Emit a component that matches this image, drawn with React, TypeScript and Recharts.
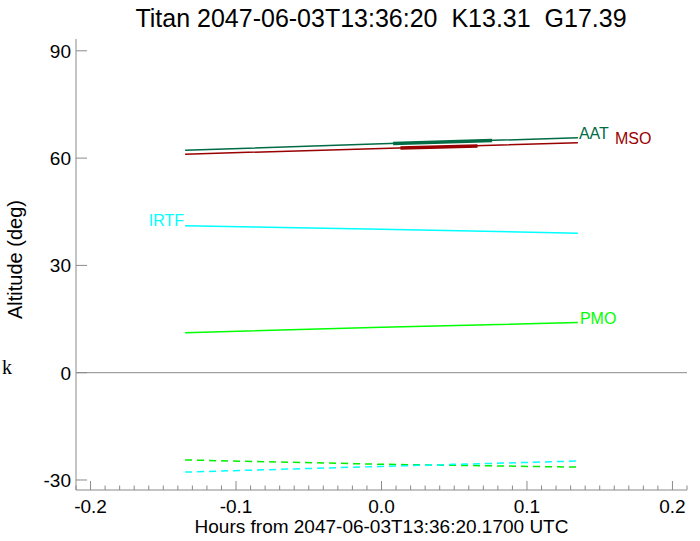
import { Line, LineChart, ReferenceLine, XAxis, YAxis } from "recharts";

// altitude tracks, hours from mid-time vs degrees
const aat = [
  { x: -0.135, y: 62.2 },
  { x: 0.0, y: 64.0 },
  { x: 0.135, y: 65.7 },
];
const aatObs = [
  { x: 0.008, y: 64.1 },
  { x: 0.076, y: 64.9 },
];
const mso = [
  { x: -0.135, y: 61.1 },
  { x: 0.0, y: 62.7 },
  { x: 0.135, y: 64.3 },
];
const msoObs = [
  { x: 0.013, y: 62.8 },
  { x: 0.066, y: 63.4 },
];
const irtf = [
  { x: -0.135, y: 41.1 },
  { x: 0.0, y: 40.1 },
  { x: 0.135, y: 39.0 },
];
const pmo = [
  { x: -0.135, y: 11.2 },
  { x: 0.0, y: 12.7 },
  { x: 0.135, y: 14.0 },
];
const pmoLow = [
  { x: -0.135, y: -24.4 },
  { x: 0.0, y: -25.6 },
  { x: 0.135, y: -26.4 },
];
const irtfLow = [
  { x: -0.135, y: -27.8 },
  { x: 0.0, y: -26.2 },
  { x: 0.135, y: -24.7 },
];

const yTicks = [-30, 0, 30, 60, 90];
const xTicks = Array.from({ length: 43 }, (_, i) => (i - 21) / 100);

const AXIS = "#8a8a8a";
const FONT = "'Liberation Sans', Arial, Helvetica, sans-serif";

const isMajor = (v: number) => Math.round(v * 100) % 10 === 0;

function BottomTick({ x, y, payload }: any) {
  const v = payload.value;
  const major = isMajor(v);
  return (
    <g>
      <line x1={x} x2={x} y1={y} y2={y - (major ? 9 : 4.5)} stroke={AXIS} />
      {major && (
        <text x={x} y={y + 23} textAnchor="middle" fontSize={19} fill="#000" fontFamily={FONT}>
          {v.toFixed(1)}
        </text>
      )}
    </g>
  );
}

function TopTick({ x, y, payload }: any) {
  const major = isMajor(payload.value);
  return <line x1={x} x2={x} y1={y} y2={y + (major ? 9 : 4.5)} stroke={AXIS} />;
}

function LeftTick({ x, y, payload }: any) {
  return (
    <g>
      <line x1={x} x2={x + 11} y1={y} y2={y} stroke={AXIS} />
      <text x={x - 5} y={y} dy="0.36em" textAnchor="end" fontSize={19} fill="#000" fontFamily={FONT}>
        {payload.value}
      </text>
    </g>
  );
}

function RightTick({ x, y }: any) {
  return <line x1={x} x2={x - 11} y1={y} y2={y} stroke={AXIS} />;
}

const tag =
  (text: string, color: string, at: number, dx: number, dy: number, anchor: string) =>
  (p: any) =>
    p.index === at ? (
      <text x={p.x + dx} y={p.y + dy} fill={color} fontSize={16} fontFamily={FONT} textAnchor={anchor}>
        {text}
      </text>
    ) : null;

export default function App() {
  return (
    <div style={{ position: "absolute", left: 0, top: 0, width: 700, height: 541, background: "#fff" }}>
      <div
        style={{
          position: "absolute",
          left: 0,
          width: 762,
          top: 4,
          textAlign: "center",
          fontFamily: FONT,
          fontSize: 25,
        }}
      >
        Titan 2047-06-03T13:36:20&nbsp;&nbsp;K13.31&nbsp;&nbsp;G17.39
      </div>
      <div style={{ position: "absolute", left: 2, top: 356, fontSize: 20 }}>k</div>
      <LineChart width={700} height={541} margin={{ top: 39, right: 13, left: 0, bottom: 0 }}>
        <XAxis
          type="number"
          dataKey="x"
          domain={[-0.21, 0.21]}
          ticks={xTicks}
          interval={0}
          allowDataOverflow
          height={51}
          stroke={AXIS}
          tickSize={0}
          tickMargin={0}
          tick={<BottomTick />}
          label={(p: any) => (
            <text
              x={p.viewBox.x + p.viewBox.width / 2}
              y={p.viewBox.y + 43}
              textAnchor="middle"
              fontSize={19}
              fontFamily={FONT}
              fill="#000"
            >
              Hours from 2047-06-03T13:36:20.1700 UTC
            </text>
          )}
        />
        <XAxis
          xAxisId="t"
          orientation="top"
          type="number"
          dataKey="x"
          domain={[-0.21, 0.21]}
          ticks={xTicks}
          interval={0}
          allowDataOverflow
          height={0}
          stroke={AXIS}
          tickSize={0}
          tickMargin={0}
          tick={<TopTick />}
        />
        <YAxis
          type="number"
          domain={[-32.8, 93.3]}
          ticks={yTicks}
          interval={0}
          allowDataOverflow
          width={76}
          stroke={AXIS}
          tickSize={0}
          tickMargin={0}
          tick={<LeftTick />}
          label={(p: any) => {
            const cx = 22;
            const cy = p.viewBox.y + p.viewBox.height / 2 - 5;
            return (
              <text
                x={cx}
                y={cy}
                transform={`rotate(-90 ${cx} ${cy})`}
                textAnchor="middle"
                fontSize={20}
                fontFamily={FONT}
                fill="#000"
              >
                Altitude (deg)
              </text>
            );
          }}
        />
        <YAxis
          yAxisId="r"
          orientation="right"
          type="number"
          domain={[-32.8, 93.3]}
          ticks={yTicks}
          interval={0}
          allowDataOverflow
          width={0}
          stroke={AXIS}
          tickSize={0}
          tickMargin={0}
          tick={<RightTick />}
        />
        <ReferenceLine y={0} stroke={AXIS} />
        <Line data={aat} dataKey="y" stroke="#006b45" strokeWidth={1.5} dot={false} isAnimationActive={false}
          label={tag("AAT", "#006b45", 2, 1, 1, "start")} />
        <Line data={aatObs} dataKey="y" stroke="#006b45" strokeWidth={3.5} dot={false} isAnimationActive={false} />
        <Line data={mso} dataKey="y" stroke="#990000" strokeWidth={1.5} dot={false} isAnimationActive={false}
          label={tag("MSO", "#990000", 2, 37, 1, "start")} />
        <Line data={msoObs} dataKey="y" stroke="#990000" strokeWidth={3.5} dot={false} isAnimationActive={false} />
        <Line data={irtf} dataKey="y" stroke="#00ffff" strokeWidth={1.5} dot={false} isAnimationActive={false}
          label={tag("IRTF", "#00ffff", 0, -1, 0, "end")} />
        <Line data={pmo} dataKey="y" stroke="#00ff00" strokeWidth={1.5} dot={false} isAnimationActive={false}
          label={tag("PMO", "#00ff00", 2, 2, 1, "start")} />
        <Line data={pmoLow} dataKey="y" stroke="#00ee00" strokeWidth={1.5} strokeDasharray="7 5" dot={false}
          isAnimationActive={false} />
        <Line data={irtfLow} dataKey="y" stroke="#00ffff" strokeWidth={1.5} strokeDasharray="7 5" dot={false}
          isAnimationActive={false} />
      </LineChart>
    </div>
  );
}
